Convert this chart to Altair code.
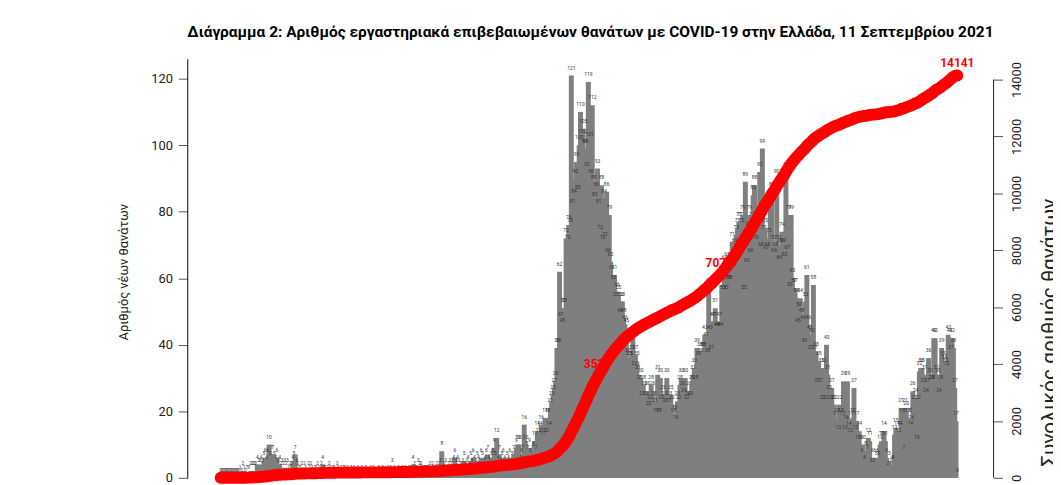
import altair as alt
import pandas as pd

# Daily lab-confirmed COVID-19 deaths in Greece, from 26 Feb 2020 to 11 Sep 2021
feb20 = [0, 0, 0, 0]
mar20 = [0, 0, 0, 0, 0, 0, 0, 0, 0, 0, 0, 1, 0, 2, 1, 0, 1, 1, 1, 2, 2, 2, 2, 2, 4, 3, 3, 4, 3, 5, 6]
apr20 = [4, 6, 10, 5, 7, 7, 5, 4, 6, 3, 4, 2, 3, 2, 3, 2, 3, 1, 2, 2, 4, 5, 7, 3, 2, 1, 1, 2, 0, 2]
may20 = [1, 0, 2, 1, 2, 1, 0, 1, 1, 2, 1, 0, 2, 4, 1, 1, 0, 1, 2, 1, 0, 1, 1, 0, 2, 1, 0, 1, 0, 1, 1]
jun20 = [0, 1, 0, 0, 1, 0, 1, 0, 0, 1, 0, 0, 1, 0, 0, 1, 0, 0, 0, 1, 0, 1, 0, 0, 0, 1, 0, 0, 1, 0]
jul20 = [0, 0, 1, 0, 1, 3, 0, 1, 0, 0, 1, 0, 0, 1, 0, 1, 0, 0, 1, 0, 1, 4, 2, 1, 1, 3, 2, 2, 1, 0, 1]
aug20 = [1, 1, 1, 2, 0, 2, 1, 1, 2, 1, 2, 3, 8, 1, 2, 3, 1, 2, 3, 2, 3, 4, 6, 3, 4, 3, 2, 2, 3, 5, 2]
sep20 = [3, 4, 2, 5, 3, 6, 4, 3, 5, 4, 2, 6, 5, 3, 4, 6, 7, 4, 3, 5, 6, 9, 5, 12, 4, 7, 3, 5, 6, 4]
oct20 = [3, 5, 4, 6, 2, 5, 7, 3, 9, 10, 10, 4, 6, 7, 16, 10, 8, 7, 9, 6, 7, 8, 11, 7, 14, 12, 14, 16, 11, 12, 18]
nov20 = [12, 18, 14, 21, 23, 25, 27, 29, 39, 39, 62, 47, 45, 51, 51, 72, 70, 76, 75, 121,
         81, 84, 90, 95, 85, 100, 110, 102, 105, 99]
dec20 = [99, 92, 119, 101, 90, 112, 88, 83, 86, 93, 81, 73, 88, 70, 84, 71, 86, 66, 79, 65,
         61, 58, 61, 53, 56, 55, 48, 53, 53, 48, 46]
jan21 = [45, 36, 35, 35, 37, 42, 32, 37, 35, 31, 28, 30, 23, 28, 26, 23, 26, 20, 22, 28,
         26, 23, 21, 18, 31, 18, 30, 22, 25, 23, 21]
feb21 = [30, 21, 23, 25, 22, 18, 19, 16, 23, 22, 28, 30, 26, 24, 30, 22, 23, 26, 23, 28,
         31, 33, 28, 39, 35, 38, 36, 38]
mar21 = [38, 43, 41, 36, 57, 43, 37, 47, 47, 51, 44, 44, 47, 44, 58, 55, 64, 55, 65, 58,
         58, 62, 71, 62, 69, 73, 75, 77, 77, 75, 79]
apr21 = [55, 89, 63, 74, 79, 66, 77, 85, 88, 70, 74, 75, 92, 68, 99, 73, 75, 67, 68, 72,
         84, 86, 70, 66, 68, 90, 70, 64, 69, 74]
may21 = [69, 65, 92, 67, 79, 56, 79, 60, 57, 57, 54, 45, 50, 54, 48, 46, 39, 53, 61, 46,
         43, 37, 42, 58, 37, 38, 27, 35, 27, 33, 22]
jun21 = [33, 22, 40, 31, 25, 22, 27, 22, 22, 17, 18, 13, 22, 18, 17, 29, 13, 16, 29, 14,
         12, 17, 18, 27, 13, 17, 10, 14, 10, 6]
jul21 = [10, 4, 8, 7, 12, 11, 3, 6, 3, 6, 5, 6, 5, 10, 11, 11, 14, 11, 6, 2,
         5, 3, 4, 4, 13, 15, 14, 12, 14, 21, 18]
aug21 = [7, 21, 20, 18, 18, 14, 16, 26, 22, 24, 10, 22, 32, 33, 33, 27, 31, 24, 27, 36,
         30, 28, 28, 42, 42, 31, 30, 24, 28, 39, 35]
sep21 = [34, 33, 32, 43, 42, 37, 42, 39, 27, 17, 0]

months = [feb20, mar20, apr20, may20, jun20, jul20, aug20, sep20, oct20, nov20, dec20,
          jan21, feb21, mar21, apr21, may21, jun21, jul21, aug21, sep21]
deaths = [v for m in months for v in m]

title_text = "Διάγραμμα 2: Αριθμός εργαστηριακά επιβεβαιωμένων θανάτων με COVID-19 στην Ελλάδα, 11 Σεπτεμβρίου 2021"
left_title = "Αριθμός νέων θανάτων"
right_title = "Συνολικός αριθμός θανάτων"
left_ticks = [0, 20, 40, 60, 80, 100, 120]
right_ticks = [0, 2000, 4000, 6000, 8000, 10000, 12000, 14000]

df = pd.DataFrame({"t": list(range(len(deaths))), "deaths": deaths})
df["date"] = pd.date_range("2020-02-26", periods=len(df)).strftime("%Y-%m-%d")
df["cum"] = df["deaths"].cumsum()
total = int(df["cum"].iloc[-1])

marks = []
for lab in [int(total / 4), int(total / 2)]:
    i = int((df["cum"] >= lab).idxmax())
    marks.append({"t": i, "cum": int(df["cum"].iloc[i]), "label": str(lab)})
marks.append({"t": len(df) - 1, "cum": total, "label": str(total)})
mdf = pd.DataFrame(marks)

W, H = 814, 423
FONT = "Roboto"
xs = alt.Scale(domain=[-21.7, 586.9], nice=False, zero=False)
yl = alt.Scale(domain=[0, 126], nice=False)
yr = alt.Scale(domain=[0, 14728], nice=False)

left_axis = alt.Axis(
    values=left_ticks, title=left_title, grid=False, tickSize=9, tickColor="#555",
    domainColor="#000", labelFontSize=13, labelFont=FONT, labelColor="#222",
    labelPadding=6, titleFont=FONT, titleFontSize=13, titleFontWeight="normal",
    titleColor="#222", titlePadding=20, titleY=215)
right_axis = alt.Axis(
    orient="right", values=right_ticks, format="d", title=right_title, grid=False,
    domain=False, tickSize=9, tickColor="#555", labelAngle=270, labelAlign="center",
    labelBaseline="top", labelFontSize=13, labelFont=FONT, labelColor="#222",
    labelPadding=8, titleFont=FONT, titleFontSize=21, titleFontWeight="normal",
    titleColor="#222", titleAngle=270, titleBaseline="top", titlePadding=16, titleY=276)

bars = alt.Chart(df).mark_bar(size=5, color="#7f7f7f").encode(
    x=alt.X("t:Q", scale=xs, axis=None),
    y=alt.Y("deaths:Q", scale=yl, axis=left_axis),
)
bar_labels = alt.Chart(df).mark_text(fontSize=5, dy=-8, color="#333", font=FONT).encode(
    x=alt.X("t:Q", scale=xs, axis=None),
    y=alt.Y("deaths:Q", scale=yl, axis=left_axis),
    text="deaths:Q",
)
left = alt.layer(bars, bar_labels)

cum_text = alt.Chart(mdf).mark_text(fontSize=12, fontWeight="bold", color="#ff0000",
                                    dy=-13, font=FONT).encode(
    x=alt.X("t:Q", scale=xs, axis=None),
    y=alt.Y("cum:Q", scale=yr, axis=right_axis),
    text="label:N",
)
line = alt.Chart(df).mark_line(color="#ff0000", strokeWidth=12, strokeCap="round",
                               strokeJoin="round").encode(
    x=alt.X("t:Q", scale=xs, axis=None),
    y=alt.Y("cum:Q", scale=yr, axis=right_axis),
)
axis_rule = alt.Chart(pd.DataFrame({"cum": [right_ticks[0]], "cum2": [right_ticks[-1]]})).mark_rule(
    color="#222").encode(x=alt.value(W), y=alt.Y("cum:Q", scale=yr, axis=right_axis), y2="cum2:Q")
right = alt.layer(cum_text, line, axis_rule)

chart = alt.layer(left, right).resolve_scale(y="independent").properties(
    width=W, height=H,
    title=alt.TitleParams(title_text, font=FONT, fontSize=15.6, fontWeight="bold",
                          color="#000", anchor="middle", offset=16),
    autosize=alt.AutoSizeParams(type="none"),
    padding={"left": 181, "top": 49, "right": 60, "bottom": 10},
).configure_view(stroke=None)

chart.save("out.html", embed_options={"renderer": "svg", "actions": False})
